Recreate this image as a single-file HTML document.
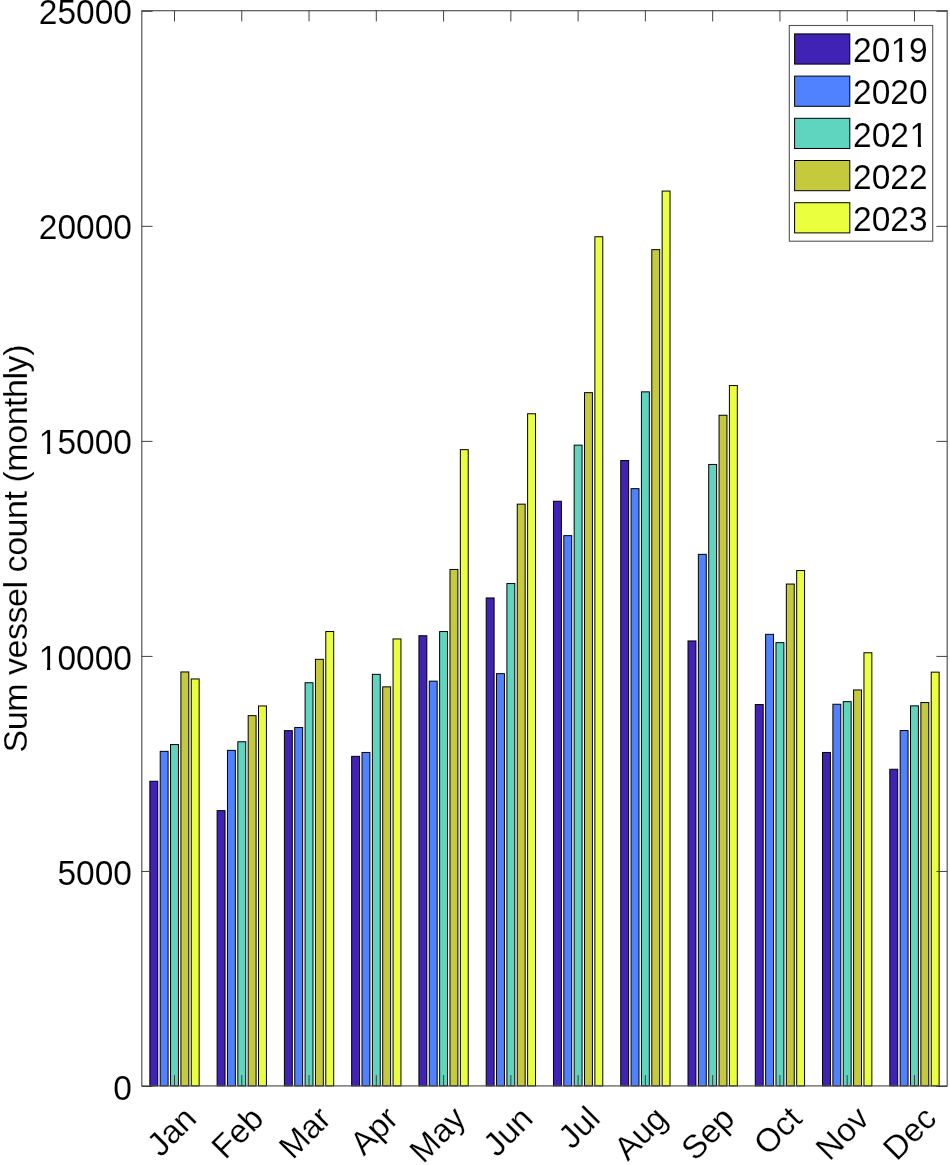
<!DOCTYPE html><html><head><meta charset="utf-8"><style>html,body{margin:0;padding:0;background:#fff;width:950px;height:1165px;overflow:hidden}svg{display:block;font-family:"Liberation Sans",sans-serif;filter:blur(0.35px)}text{stroke:#fff;stroke-width:0.1px}.xl text{stroke-width:0.2px}.yl{stroke-width:0.15px}</style></head><body><svg width="950" height="1165" viewBox="0 0 950 1165"><rect x="0" y="0" width="950" height="1165" fill="#fff"/><g stroke="#000" stroke-width="1"><rect x="149.85" y="781.25" width="7.90" height="304.65" fill="#4023B5"/><rect x="160.20" y="751.35" width="7.90" height="334.55" fill="#5082FF"/><rect x="170.55" y="744.55" width="7.90" height="341.35" fill="#5FD5C0"/><rect x="180.90" y="671.95" width="7.90" height="413.95" fill="#C4CA3B"/><rect x="191.25" y="678.95" width="7.90" height="406.95" fill="#EAFF3E"/><rect x="217.12" y="810.65" width="7.90" height="275.25" fill="#4023B5"/><rect x="227.47" y="750.35" width="7.90" height="335.55" fill="#5082FF"/><rect x="237.82" y="741.75" width="7.90" height="344.15" fill="#5FD5C0"/><rect x="248.17" y="715.65" width="7.90" height="370.25" fill="#C4CA3B"/><rect x="258.52" y="705.95" width="7.90" height="379.95" fill="#EAFF3E"/><rect x="284.39" y="730.65" width="7.90" height="355.25" fill="#4023B5"/><rect x="294.74" y="727.55" width="7.90" height="358.35" fill="#5082FF"/><rect x="305.09" y="682.75" width="7.90" height="403.15" fill="#5FD5C0"/><rect x="315.44" y="659.35" width="7.90" height="426.55" fill="#C4CA3B"/><rect x="325.79" y="631.55" width="7.90" height="454.35" fill="#EAFF3E"/><rect x="351.66" y="756.35" width="7.90" height="329.55" fill="#4023B5"/><rect x="362.01" y="752.45" width="7.90" height="333.45" fill="#5082FF"/><rect x="372.36" y="674.35" width="7.90" height="411.55" fill="#5FD5C0"/><rect x="382.71" y="686.85" width="7.90" height="399.05" fill="#C4CA3B"/><rect x="393.06" y="638.95" width="7.90" height="446.95" fill="#EAFF3E"/><rect x="418.93" y="635.75" width="7.90" height="450.15" fill="#4023B5"/><rect x="429.28" y="681.15" width="7.90" height="404.75" fill="#5082FF"/><rect x="439.63" y="631.55" width="7.90" height="454.35" fill="#5FD5C0"/><rect x="449.98" y="569.45" width="7.90" height="516.45" fill="#C4CA3B"/><rect x="460.33" y="449.65" width="7.90" height="636.25" fill="#EAFF3E"/><rect x="486.20" y="597.95" width="7.90" height="487.95" fill="#4023B5"/><rect x="496.55" y="673.65" width="7.90" height="412.25" fill="#5082FF"/><rect x="506.90" y="583.55" width="7.90" height="502.35" fill="#5FD5C0"/><rect x="517.25" y="504.15" width="7.90" height="581.75" fill="#C4CA3B"/><rect x="527.60" y="413.75" width="7.90" height="672.15" fill="#EAFF3E"/><rect x="553.47" y="501.25" width="7.90" height="584.65" fill="#4023B5"/><rect x="563.82" y="535.65" width="7.90" height="550.25" fill="#5082FF"/><rect x="574.17" y="445.15" width="7.90" height="640.75" fill="#5FD5C0"/><rect x="584.52" y="392.65" width="7.90" height="693.25" fill="#C4CA3B"/><rect x="594.87" y="236.75" width="7.90" height="849.15" fill="#EAFF3E"/><rect x="620.74" y="460.55" width="7.90" height="625.35" fill="#4023B5"/><rect x="631.09" y="488.65" width="7.90" height="597.25" fill="#5082FF"/><rect x="641.44" y="391.85" width="7.90" height="694.05" fill="#5FD5C0"/><rect x="651.79" y="249.65" width="7.90" height="836.25" fill="#C4CA3B"/><rect x="662.14" y="191.05" width="7.90" height="894.85" fill="#EAFF3E"/><rect x="688.01" y="640.95" width="7.90" height="444.95" fill="#4023B5"/><rect x="698.36" y="554.35" width="7.90" height="531.55" fill="#5082FF"/><rect x="708.71" y="464.45" width="7.90" height="621.45" fill="#5FD5C0"/><rect x="719.06" y="415.25" width="7.90" height="670.65" fill="#C4CA3B"/><rect x="729.41" y="385.55" width="7.90" height="700.35" fill="#EAFF3E"/><rect x="755.28" y="704.55" width="7.90" height="381.35" fill="#4023B5"/><rect x="765.63" y="634.35" width="7.90" height="451.55" fill="#5082FF"/><rect x="775.98" y="642.65" width="7.90" height="443.25" fill="#5FD5C0"/><rect x="786.33" y="584.05" width="7.90" height="501.85" fill="#C4CA3B"/><rect x="796.68" y="570.55" width="7.90" height="515.35" fill="#EAFF3E"/><rect x="822.55" y="752.45" width="7.90" height="333.45" fill="#4023B5"/><rect x="832.90" y="704.25" width="7.90" height="381.65" fill="#5082FF"/><rect x="843.25" y="701.65" width="7.90" height="384.25" fill="#5FD5C0"/><rect x="853.60" y="689.95" width="7.90" height="395.95" fill="#C4CA3B"/><rect x="863.95" y="652.75" width="7.90" height="433.15" fill="#EAFF3E"/><rect x="889.82" y="769.25" width="7.90" height="316.65" fill="#4023B5"/><rect x="900.17" y="730.55" width="7.90" height="355.35" fill="#5082FF"/><rect x="910.52" y="705.85" width="7.90" height="380.05" fill="#5FD5C0"/><rect x="920.87" y="702.55" width="7.90" height="383.35" fill="#C4CA3B"/><rect x="931.22" y="672.15" width="7.90" height="413.75" fill="#EAFF3E"/></g><g stroke="#555555" stroke-width="1.2" fill="none"><rect x="141.80" y="10.70" width="805.40" height="1075.20"/></g><g stroke="#383838" stroke-width="0.95" fill="none"><path d="M174.50 1085.90V1075.15M174.50 10.70V21.45M241.77 1085.90V1075.15M241.77 10.70V21.45M309.04 1085.90V1075.15M309.04 10.70V21.45M376.31 1085.90V1075.15M376.31 10.70V21.45M443.58 1085.90V1075.15M443.58 10.70V21.45M510.85 1085.90V1075.15M510.85 10.70V21.45M578.12 1085.90V1075.15M578.12 10.70V21.45M645.39 1085.90V1075.15M645.39 10.70V21.45M712.66 1085.90V1075.15M712.66 10.70V21.45M779.93 1085.90V1075.15M779.93 10.70V21.45M847.20 1085.90V1075.15M847.20 10.70V21.45M914.47 1085.90V1075.15M914.47 10.70V21.45M141.80 1086.50H152.55M947.20 1086.50H936.45M141.80 871.46H152.55M947.20 871.46H936.45M141.80 656.42H152.55M947.20 656.42H936.45M141.80 441.38H152.55M947.20 441.38H936.45M141.80 226.34H152.55M947.20 226.34H936.45M141.80 11.30H152.55M947.20 11.30H936.45"/></g><g font-size="33.5" fill="#000" text-anchor="end"><text transform="translate(131.9 1099.60) scale(1 1.07)">0</text><text transform="translate(131.9 884.56) scale(1 1.07)">5000</text><text transform="translate(131.9 669.52) scale(1 1.07)">10000</text><text transform="translate(131.9 454.48) scale(1 1.07)">15000</text><text transform="translate(131.9 239.44) scale(1 1.07)">20000</text><text transform="translate(131.9 24.40) scale(1 1.07)">25000</text></g><g font-size="33" fill="#000" text-anchor="end" class="xl"><text transform="translate(198.30 1120.40) rotate(-45)">Jan</text><text transform="translate(265.57 1120.40) rotate(-45)">Feb</text><text transform="translate(332.84 1120.40) rotate(-45)">Mar</text><text transform="translate(400.11 1120.40) rotate(-45)">Apr</text><text transform="translate(467.38 1120.40) rotate(-45)">May</text><text transform="translate(534.65 1120.40) rotate(-45)">Jun</text><text transform="translate(601.92 1120.40) rotate(-45)">Jul</text><text transform="translate(669.19 1120.40) rotate(-45)">Aug</text><text transform="translate(736.46 1120.40) rotate(-45)">Sep</text><text transform="translate(803.73 1120.40) rotate(-45)">Oct</text><text transform="translate(871.00 1120.40) rotate(-45)">Nov</text><text transform="translate(938.27 1120.40) rotate(-45)">Dec</text></g><text class="yl" font-size="34" fill="#000" text-anchor="middle" textLength="408" lengthAdjust="spacing" transform="translate(26.8 548.5) rotate(-90)">Sum vessel count (monthly)</text><rect x="789.3" y="25.5" width="143.40" height="215.70" fill="#fff" stroke="#555555" stroke-width="1.1"/><rect x="794.6" y="33.90" width="55.2" height="30.2" fill="#4023B5" stroke="#000" stroke-width="1"/><text transform="translate(853.0 62.20) scale(1 1.07)" font-size="33.5" fill="#000">20<tspan dx="0.6">1</tspan><tspan dx="-0.6">9</tspan></text><rect x="794.6" y="76.10" width="55.2" height="30.2" fill="#5082FF" stroke="#000" stroke-width="1"/><text transform="translate(853.0 104.40) scale(1 1.07)" font-size="33.5" fill="#000">2020</text><rect x="794.6" y="118.30" width="55.2" height="30.2" fill="#5FD5C0" stroke="#000" stroke-width="1"/><text transform="translate(853.0 146.60) scale(1 1.07)" font-size="33.5" fill="#000">202<tspan dx="0.6">1</tspan></text><rect x="794.6" y="160.50" width="55.2" height="30.2" fill="#C4CA3B" stroke="#000" stroke-width="1"/><text transform="translate(853.0 188.80) scale(1 1.07)" font-size="33.5" fill="#000">2022</text><rect x="794.6" y="202.70" width="55.2" height="30.2" fill="#EAFF3E" stroke="#000" stroke-width="1"/><text transform="translate(853.0 231.00) scale(1 1.07)" font-size="33.5" fill="#000">2023</text><rect x="39.92" y="665.84" width="7.12" height="4.78" fill="#fff"/><rect x="50.25" y="665.84" width="6.91" height="4.78" fill="#fff"/><rect x="39.92" y="450.80" width="7.12" height="4.78" fill="#fff"/><rect x="50.25" y="450.80" width="6.91" height="4.78" fill="#fff"/><rect x="892.03" y="58.52" width="7.12" height="4.78" fill="#fff"/><rect x="902.37" y="58.52" width="6.91" height="4.78" fill="#fff"/><rect x="910.67" y="142.92" width="7.12" height="4.78" fill="#fff"/><rect x="921.00" y="142.92" width="6.91" height="4.78" fill="#fff"/></svg></body></html>
